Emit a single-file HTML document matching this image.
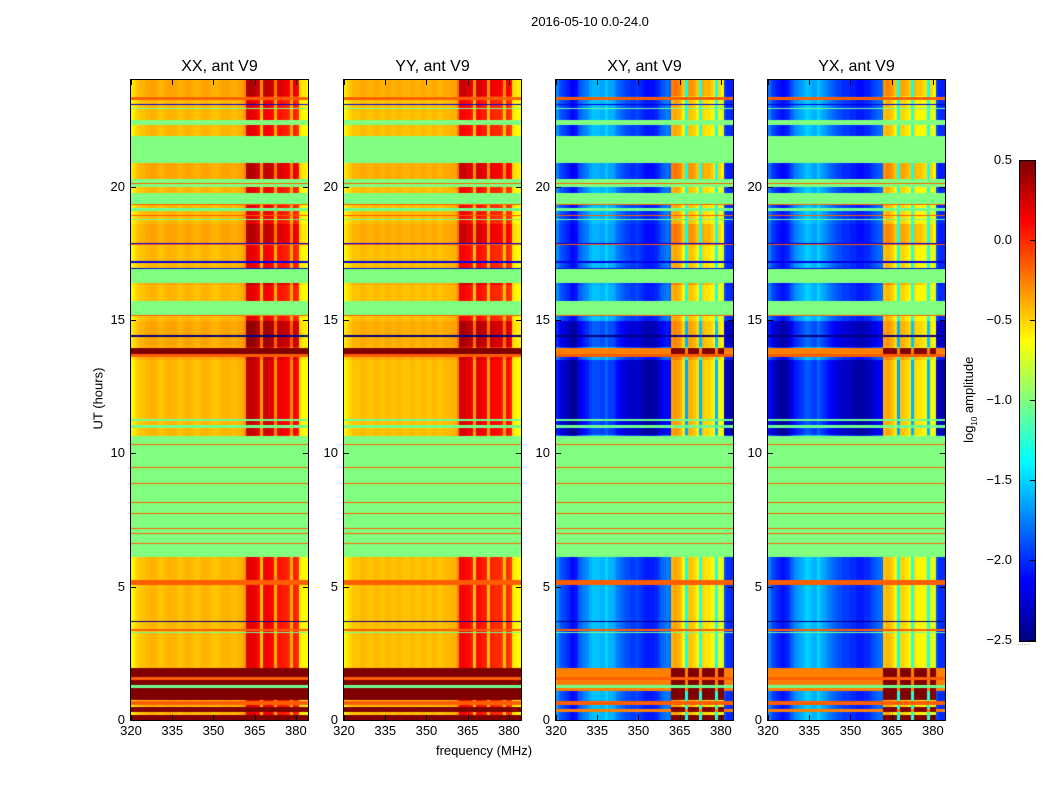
<!DOCTYPE html>
<html><head><meta charset="utf-8">
<style>
body{margin:0;background:#fff;width:1050px;height:800px;overflow:hidden;font-family:"Liberation Sans",sans-serif;}
#root{position:relative;width:1050px;height:800px;}
.t{position:absolute;white-space:nowrap;color:#000;}
canvas{position:absolute;}
</style></head>
<body>
<div id="root">
<div class="t" style="left:490px;top:14px;font-size:13px;width:200px;text-align:center;">2016-05-10 0.0-24.0</div>
<div class="t" style="left:48px;top:391px;font-size:13px;width:100px;text-align:center;transform:rotate(-90deg);">UT (hours)</div>
<div class="t" style="left:384px;top:743px;font-size:13px;width:200px;text-align:center;">frequency (MHz)</div>
<div class="t" style="left:910px;top:391px;font-size:13px;width:120px;text-align:center;transform:rotate(-90deg);">log<sub style="font-size:8px">10</sub> amplitude</div>
<canvas id="cb" width="15" height="480" style="left:1019px;top:160px;border:1px solid #000;"></canvas>
<div class="t" style="left:1017px;top:638px;font-size:8px;color:#888;">......</div>
</div>
<script>
// ---- data ----
const panelTitles = ["XX, ant V9", "YY, ant V9", "XY, ant V9", "YX, ant V9"];
const panelLeft = [131, 344, 556, 768];
const xTicks = [320, 335, 350, 365, 380];
const yTicks = [0, 5, 10, 15, 20];
const cbTicks = [0.5, 0.0, -0.5, -1.0, -1.5, -2.0, -2.5];
// frequency profiles, 1 MHz bins from 320 to 384 (log10 amplitude)
const profXX = [-0.6,-0.55,-0.5,-0.45,-0.45,-0.42,-0.42,-0.4,-0.4,-0.42,-0.45,-0.45,-0.42,-0.4,-0.4,-0.4,-0.42,-0.45,-0.45,-0.42,-0.4,-0.4,-0.42,-0.45,-0.45,-0.42,-0.4,-0.4,-0.42,-0.45,-0.45,-0.45,-0.42,-0.4,-0.4,-0.4,-0.42,-0.45,-0.42,-0.4,-0.38,-0.3,0.2,0.22,0.2,0.15,0.1,-0.45,0.15,0.18,0.15,0.1,-0.4,0.05,0.08,0.05,0.03,0.0,-0.4,0.05,0.0,-0.55,-0.6,-0.62,-0.65];
const profYY = [-0.6,-0.55,-0.5,-0.45,-0.45,-0.45,-0.42,-0.42,-0.45,-0.45,-0.45,-0.42,-0.42,-0.45,-0.45,-0.42,-0.42,-0.45,-0.45,-0.42,-0.42,-0.45,-0.45,-0.45,-0.42,-0.42,-0.45,-0.45,-0.42,-0.42,-0.45,-0.45,-0.42,-0.42,-0.45,-0.45,-0.42,-0.42,-0.42,-0.4,-0.4,-0.25,0.15,0.15,0.1,0.1,0.05,-0.45,0.1,0.1,0.05,0.05,-0.45,0.05,0.02,0.0,0.0,-0.05,-0.45,0.0,-0.05,-0.55,-0.6,-0.62,-0.65];
const profXY = [-1.7,-1.85,-1.9,-1.95,-2.0,-2.1,-2.1,-2.05,-1.85,-1.8,-1.75,-1.7,-1.6,-1.55,-1.55,-1.55,-1.6,-1.6,-1.5,-1.6,-1.6,-1.65,-1.75,-1.8,-1.85,-1.9,-1.9,-1.95,-1.95,-1.9,-1.95,-2.0,-2.05,-2.05,-2.05,-2.05,-2.0,-1.95,-1.85,-1.8,-1.75,-1.8,-0.4,-0.35,-0.4,-0.45,-0.6,-1.3,-0.45,-0.45,-0.5,-0.6,-1.25,-0.5,-0.55,-0.55,-0.6,-0.7,-1.25,-0.65,-0.75,-1.9,-2.0,-2.0,-2.0];
const profYX = [-1.75,-1.9,-1.95,-2.0,-2.05,-2.1,-2.05,-2.0,-1.85,-1.75,-1.7,-1.65,-1.6,-1.55,-1.5,-1.55,-1.6,-1.6,-1.5,-1.6,-1.65,-1.7,-1.75,-1.8,-1.85,-1.9,-1.9,-1.95,-1.95,-1.95,-2.0,-2.0,-2.05,-2.05,-2.05,-2.0,-2.0,-1.95,-1.9,-1.85,-1.8,-1.8,-0.45,-0.4,-0.45,-0.5,-0.6,-1.3,-0.5,-0.5,-0.55,-0.6,-1.25,-0.55,-0.6,-0.6,-0.65,-0.7,-1.25,-0.65,-0.75,-1.9,-2.0,-2.0,-2.0];
// time bands: [startHour, endHour, kind]  later entries override earlier
const bandStart = [24.0,23.35,23.1,22.95,22.5,21.9,20.9,20.3,20.15,19.76,19.5,19.35,19.2,18.95,18.8,18.6,17.9,17.85,17.2,16.95,16.9,16.4,15.7,15.2,14.95,14.45,13.95,13.72,13.6,13.5,11.3,11.05,10.65,10.35,9.49,8.89,8.17,7.76,7.2,7.01,6.64,5.25,5.12,4.75,4.2,3.72,3.4,3.3,3.0,1.95,1.6,1.5,1.3,1.09,0.7,0.49,0.41,0.2];
const bandEnd   = [23.4,23.25,23.05,22.9,22.3,20.9,20.3,20.0,20.1,19.3,19.45,19.3,19.1,18.9,18.75,17.9,17.85,17.8,17.15,16.9,16.4,16.3,15.2,15.15,14.0,14.38,13.72,13.6,13.5,10.7,11.2,10.95,6.1,10.3,9.45,8.85,8.12,7.72,7.16,6.97,6.6,5.15,5.05,4.7,4.15,3.68,3.35,3.25,2.0,1.6,1.5,1.09,1.2,0.75,0.55,0.41,0.3,0.0];
const bandKind  = ["H","O","B","G","F","F","H","F","O","F","G","O","G","O","G","H","B","O","B","B","F","H","F","O","X","K","R","O","H","D","G","G","F","O","O","O","O","O","O","O","O","O","O","N","N","K","O","G","N","R","O","R","G","r","O","r","R","r"];

// ---- rendering ----
const root = document.getElementById('root');
const TOP = 80, H = 640, W = 177, F0 = 320, F1 = 384.4;
const xScale = f => (f - F0) / (F1 - F0) * W;
const yScale = h => H - h / 24 * H;
function jet(v){
  let t = Math.max(0, Math.min(1, (v + 2.5) / 3));
  const c = x => Math.round(255 * Math.max(0, Math.min(1, x)));
  return [c(1.5 - Math.abs(4*t - 3)), c(1.5 - Math.abs(4*t - 2)), c(1.5 - Math.abs(4*t - 1))];
}
const profiles = [profXX, profYY, profXY, profYX];
function bandAt(h){
  for (let i = bandStart.length - 1; i >= 0; i--) {
    const a = Math.min(bandStart[i], bandEnd[i]), b = Math.max(bandStart[i], bandEnd[i]);
    if (h >= a && h < b) return bandKind[i];
  }
  return "N";
}
function valueAt(p, f, h){
  const prof = profiles[p];
  const idx = Math.max(0, Math.min(prof.length - 1, Math.floor(f - F0)));
  let v = prof[idx];
  const cross = p >= 2;
  const bright = idx >= 42 && idx <= 60 && prof[idx] > -1.0;
  const k = bandAt(h);
  switch (k) {
    case "F": return -1.0;
    case "G": return -1.05;
    case "O": return -0.15;
    case "B": return -2.2;
    case "K": return -2.6;
    case "R": return cross ? (bright ? 0.5 : -0.25) : 0.5;
    case "r": return cross ? (bright ? 0.5 : v) : 0.5;
    case "H": return cross ? v + (bright ? 0.15 : -0.05) : v + (bright ? 0.15 : 0.05);
    case "X": return cross ? v + (bright ? 0.1 : -0.3) : v + (bright ? 0.25 : 0.05);
    case "D": return cross ? v + (bright ? 0.05 : -0.35) : v + (bright ? 0.1 : 0);
  }
  return v;
}
for (let p = 0; p < 4; p++) {
  const L = panelLeft[p];
  const cv = document.createElement('canvas');
  cv.width = W; cv.height = H;
  cv.style.left = L + 'px'; cv.style.top = TOP + 'px';
  
  
  root.appendChild(cv);
  const ctx = cv.getContext('2d');
  const img = ctx.createImageData(W, H);
  for (let y = 0; y < H; y++) {
    const h = (H - y - 0.5) / H * 24;
    for (let x = 0; x < W; x++) {
      const f = F0 + (x + 0.5) / W * (F1 - F0);
      const c = jet(valueAt(p, f, h));
      const o = (y * W + x) * 4;
      img.data[o] = c[0]; img.data[o+1] = c[1]; img.data[o+2] = c[2]; img.data[o+3] = 255;
    }
  }
  ctx.putImageData(img, 0, 0);
  const frame = document.createElement('div');
  
  
  frame.style.cssText = `position:absolute;left:${L-1}px;top:${TOP-1}px;width:${W}px;height:${H}px;border:1px solid #000;`;
  root.appendChild(frame);
  const tt = document.createElement('div');
  tt.className = 't';
  
  
  tt.textContent = panelTitles[p];
  tt.style.cssText += `left:${L}px;top:58px;width:${W}px;text-align:center;font-size:16px;`;
  root.appendChild(tt);
  xTicks.forEach(v => {
    const x = L + xScale(v);
    const lb = document.createElement('div');
    lb.className = 't';
    
    
    lb.textContent = v;
    lb.style.cssText += `left:${x-20}px;top:723px;width:40px;text-align:center;font-size:13px;`;
    root.appendChild(lb);
    [TOP + H - 5, TOP].forEach(ty => {
      const tk = document.createElement('div');
      
      
      tk.style.cssText = `position:absolute;left:${x}px;top:${ty}px;width:1px;height:5px;background:#000;`;
      root.appendChild(tk);
    });
  });
  yTicks.forEach(v => {
    const y = TOP + yScale(v);
    const lb = document.createElement('div');
    lb.className = 't';
    
    
    lb.textContent = v;
    lb.style.cssText += `left:${L-40}px;top:${y-8}px;width:34px;text-align:right;font-size:13px;`;
    root.appendChild(lb);
    [L, L + W - 5].forEach(tx => {
      const tk = document.createElement('div');
      
      
      tk.style.cssText = `position:absolute;left:${tx}px;top:${y}px;width:5px;height:1px;background:#000;`;
      root.appendChild(tk);
    });
  });
}
// colorbar
const cb = document.getElementById('cb');
const cctx = cb.getContext('2d');
for (let y = 0; y < 480; y++) {
  const v = 0.5 - (y + 0.5) / 480 * 3;
  const c = jet(v);
  cctx.fillStyle = `rgb(${c[0]},${c[1]},${c[2]})`;
  cctx.fillRect(0, y, 15, 1);
}
cbTicks.forEach(v => {
  const y = 160 + (0.5 - v) / 3 * 480;
  const lb = document.createElement('div');
  lb.className = 't';
  
  
  lb.textContent = (v < 0 ? '\u2212' + Math.abs(v).toFixed(1) : v.toFixed(1));
  lb.style.cssText += `left:${960}px;top:${y-8}px;width:52px;text-align:right;font-size:13px;`;
  root.appendChild(lb);
  const tk = document.createElement('div');
  
  
  tk.style.cssText = `position:absolute;left:1030px;top:${y}px;width:5px;height:1px;background:#000;`;
  root.appendChild(tk);
});
</script>
</body></html>
